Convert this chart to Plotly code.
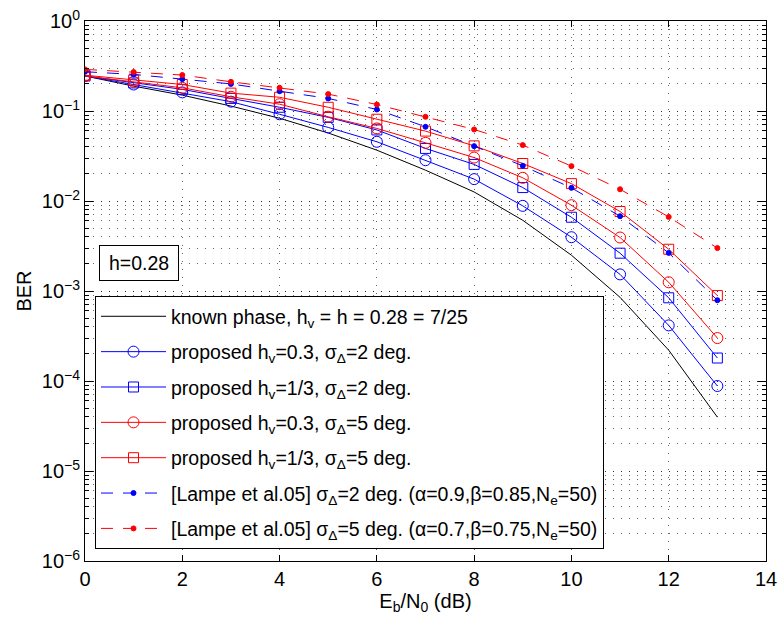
import plotly.graph_objects as go

# ---- data ----
ebn0 = [0, 1, 2, 3, 4, 5, 6, 7, 8, 9, 10, 11, 12, 13]

ber_known = [0.245, 0.189, 0.150, 0.1135, 0.083, 0.057, 0.0367, 0.022, 0.0126,
             0.0061, 0.0025, 0.00085, 0.00022, 3.97e-5]
ber_hv03_s2 = [0.245, 0.197, 0.161, 0.127, 0.092, 0.0657, 0.0455, 0.0284, 0.0175,
               0.00883, 0.00396, 0.00153, 0.000415, 8.8e-5]
ber_hv13_s2 = [0.245, 0.205, 0.174, 0.138, 0.110, 0.085, 0.0616, 0.0384, 0.0255,
               0.0141, 0.0066, 0.00263, 0.00084, 0.00018]
ber_hv03_s5 = [0.245, 0.211, 0.181, 0.144, 0.119, 0.0863, 0.064, 0.0443, 0.0304,
               0.0181, 0.00898, 0.00393, 0.00125, 0.0003]
ber_hv13_s5 = [0.25, 0.22, 0.197, 0.158, 0.142, 0.110, 0.081, 0.0598, 0.041,
               0.0261, 0.0156, 0.00764, 0.00291, 0.00089]
ber_lampe_s2 = [0.273, 0.255, 0.226, 0.200, 0.166, 0.138, 0.104, 0.0668, 0.0407,
                0.0246, 0.0140, 0.00678, 0.00265, 0.00079]
ber_lampe_s5 = [0.290, 0.271, 0.251, 0.211, 0.181, 0.154, 0.118, 0.0862, 0.0624,
                0.0418, 0.0244, 0.0135, 0.00666, 0.0030]

names = [
    "known phase, h<sub>v</sub> = h = 0.28 = 7/25",
    "proposed h<sub>v</sub>=0.3, σ<sub>Δ</sub>=2 deg.",
    "proposed h<sub>v</sub>=1/3, σ<sub>Δ</sub>=2 deg.",
    "proposed h<sub>v</sub>=0.3, σ<sub>Δ</sub>=5 deg.",
    "proposed h<sub>v</sub>=1/3, σ<sub>Δ</sub>=5 deg.",
    "[Lampe et al.05] σ<sub>Δ</sub>=2 deg. (α=0.9,β=0.85,N<sub>e</sub>=50)",
    "[Lampe et al.05] σ<sub>Δ</sub>=5 deg. (α=0.7,β=0.75,N<sub>e</sub>=50)",
]

ytick_vals = [1e-6, 1e-5, 1e-4, 1e-3, 1e-2, 1e-1, 1]
ytick_text = ["10<sup>−6</sup>", "10<sup>−5</sup>", "10<sup>−4</sup>", "10<sup>−3</sup>",
              "10<sup>−2</sup>", "10<sup>−1</sup>", "10<sup>0</sup>"]
xtick_vals = [0, 2, 4, 6, 8, 10, 12, 14]

BLUE = "rgb(0,0,255)"
RED = "rgb(255,0,0)"
FONT = "Liberation Sans, Arial, Helvetica, sans-serif"

series = [
    (ber_known, "black", None, "solid"),
    (ber_hv03_s2, BLUE, "circle-open", "solid"),
    (ber_hv13_s2, BLUE, "square-open", "solid"),
    (ber_hv03_s5, RED, "circle-open", "solid"),
    (ber_hv13_s5, RED, "square-open", "solid"),
    (ber_lampe_s2, BLUE, "circle", "12px,10px"),
    (ber_lampe_s5, RED, "circle", "12px,10px"),
]

fig = go.Figure()
for i, (vals, col, sym, dash) in enumerate(series):
    if sym is None:
        mode = "lines"
        marker = None
    else:
        mode = "lines+markers"
        size = 11 if sym == "circle-open" else (10 if sym == "square-open" else 5)
        marker = dict(symbol=sym, size=size, color=col, line=dict(color=col, width=1))
    fig.add_trace(go.Scatter(
        x=ebn0, y=vals, mode=mode, name=names[i], legendgroup=str(i),
        line=dict(color=col, width=1, dash=dash),
        marker=marker,
    ))

grid_col = "rgba(0,0,0,0.6)"
grid_dash = "1px,7px"

fig.update_layout(
    width=778, height=617,
    margin=dict(l=85, r=12, t=21, b=56),
    paper_bgcolor="white", plot_bgcolor="white",
    font=dict(family=FONT, size=19, color="black"),
    showlegend=True,
    legend=dict(
        x=0.0147, y=0.022, xanchor="left", yanchor="bottom",
        bgcolor="white", bordercolor="black", borderwidth=1,
        font=dict(family=FONT, size=19.5, color="black"),
        tracegroupgap=7, itemwidth=65,
    ),
    xaxis=dict(
        range=[0, 14], tickmode="array", tickvals=xtick_vals,
        ticks="inside", ticklen=6, tickcolor="black",
        showline=True, linecolor="black", linewidth=1, mirror="ticks",
        showgrid=True, gridcolor=grid_col, griddash=grid_dash, gridwidth=1,
        zeroline=False, automargin=False,
        title=dict(text="E<sub>b</sub>/N<sub>0</sub> (dB)", font=dict(size=20), standoff=2),
        tickfont=dict(size=20),
    ),
    yaxis=dict(
        type="log", range=[-6, 0], tickmode="array", tickvals=ytick_vals, ticktext=ytick_text,
        ticks="inside", ticklen=8, tickcolor="black",
        showline=True, linecolor="black", linewidth=1, mirror="ticks",
        showgrid=True, gridcolor=grid_col, griddash=grid_dash, gridwidth=1,
        zeroline=False, automargin=False,
        minor=dict(dtick="D1", ticks="inside", ticklen=4, tickcolor="black",
                   showgrid=True, gridcolor=grid_col, griddash=grid_dash, gridwidth=1),
        title=dict(text="BER", font=dict(size=20), standoff=4),
        tickfont=dict(size=20),
    ),
    annotations=[dict(
        text="h=0.28", xref="paper", yref="paper", x=0.08, y=0.552,
        xanchor="center", yanchor="middle", showarrow=False,
        bordercolor="black", borderwidth=1, bgcolor="white",
        width=76, height=32, font=dict(size=19.5),
    )],
)

fig.write_html("out.html", config={"displayModeBar": False},
               post_script="document.body.style.margin='0';")
